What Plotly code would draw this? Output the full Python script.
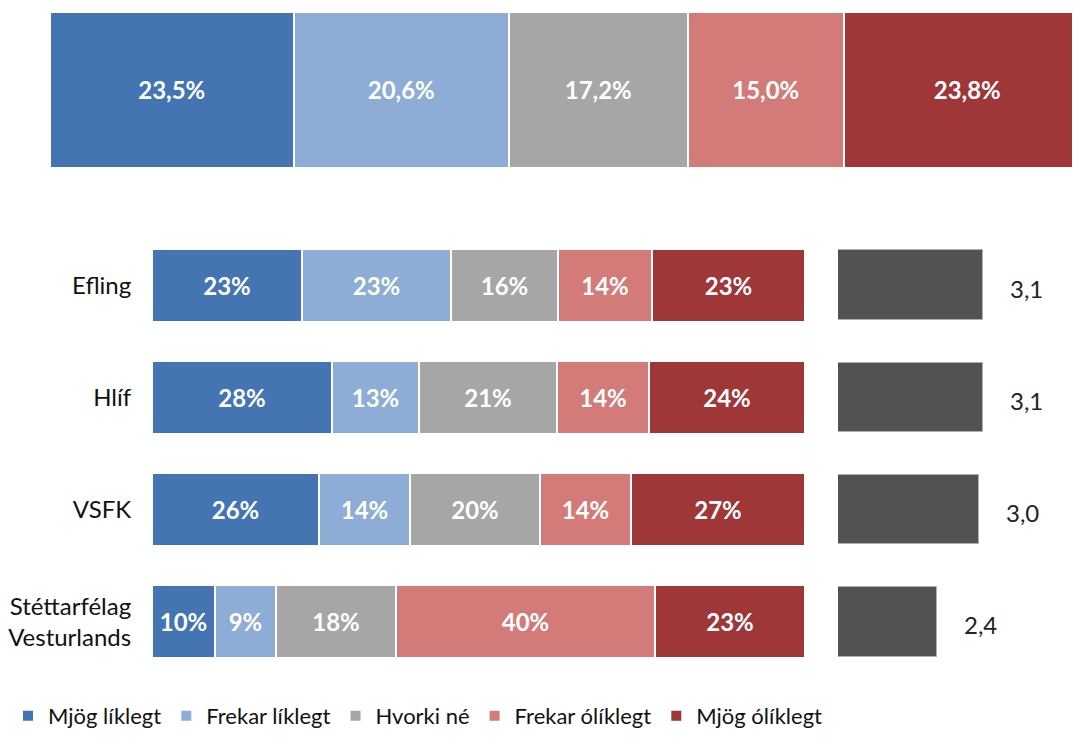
import plotly.graph_objects as go

series = ["Mjög líklegt", "Frekar líklegt", "Hvorki né", "Frekar ólíklegt", "Mjög ólíklegt"]
colors = ["#4474b2", "#8dadd6", "#a6a6a6", "#d37b78", "#9f3638"]

total_values = [23.5, 20.6, 17.2, 15.0, 23.8]

groups = ["Efling", "Hlíf", "VSFK", "Stéttarfélag<br>Vesturlands"]
group_values = {
    "Mjög líklegt":    [22.9, 27.6, 25.6, 9.6],
    "Frekar líklegt":  [22.9, 13.3, 13.9, 9.4],
    "Hvorki né":       [16.4, 21.1, 19.9, 18.3],
    "Frekar ólíklegt": [14.4, 14.1, 14.0, 39.8],
    "Mjög ólíklegt":   [23.4, 23.9, 26.6, 22.9],
}
means = [3.10, 3.10, 3.04, 2.43]

FONT = "Lato"
OFF = 8                      # page body margin
W, H = 1080 - 2 * OFF, 745 - 2 * OFF


def px_x(sx):
    return (sx - OFF) / W


def px_y(sy):
    return 1 - (sy - OFF) / H


fig = go.Figure()

# top total bar
for s, c, v in zip(series, colors, total_values):
    fig.add_trace(go.Bar(
        x=[v], y=["Alls"], orientation="h", name=s,
        marker=dict(color=c, line=dict(color="white", width=2.5)),
        texttemplate="<b>%{x:.1f}%</b>", textposition="inside", insidetextanchor="middle",
        textfont=dict(color="white", size=24, family=FONT), constraintext="none",
        xaxis="x", yaxis="y", showlegend=False, width=1.0,
    ))

# group bars
for s, c in zip(series, colors):
    fig.add_trace(go.Bar(
        x=group_values[s], y=groups, orientation="h", name=s,
        marker=dict(color=c, line=dict(color="white", width=2)),
        texttemplate="<b>%{x:.0f}%</b>", textposition="inside", insidetextanchor="middle",
        textfont=dict(color="white", size=24, family=FONT), constraintext="none",
        xaxis="x2", yaxis="y2", width=0.65, showlegend=True,
    ))

# mean bars (scale starts at 1)
fig.add_trace(go.Bar(
    x=[m - 1 for m in means], y=groups, orientation="h", base=[1] * len(means), name="Meðaltal",
    marker=dict(color="#525250", line=dict(color="#b0b0b0", width=1)),
    xaxis="x3", yaxis="y2", width=0.62, showlegend=False,
))

for g, m in zip(groups, means):
    fig.add_annotation(
        x=m, y=g, xref="x3", yref="y2", text=f"{m:.1f}".replace(".", ","),
        showarrow=False, xanchor="left", xshift=25, yshift=-3,
        font=dict(size=24, family=FONT, color="#222222"),
    )

fig.update_layout(
    width=W, height=H,
    margin=dict(l=0, r=0, t=0, b=0, pad=0, autoexpand=False),
    paper_bgcolor="white", plot_bgcolor="white",
    barmode="stack", separators=",.",
    font=dict(family=FONT, size=20, color="#222222"),
    xaxis=dict(domain=[0, 1], range=[-(50 - OFF) / 10.4, (W - (50 - OFF)) / 10.4], visible=False),
    yaxis=dict(domain=[px_y(168), px_y(12)], range=[-0.5, 0.5], visible=False, anchor="x"),
    xaxis2=dict(domain=[px_x(152), px_x(805)], range=[0, 100], visible=False, anchor="y2"),
    yaxis2=dict(domain=[px_y(678), px_y(229)], range=[3.5, -0.5], anchor="x2",
                showgrid=False, zeroline=False, showline=False,
                ticks="outside", ticklen=15, tickcolor="rgba(0,0,0,0)",
                tickfont=dict(size=24, family=FONT, color="#111111")),
    xaxis3=dict(domain=[px_x(838), 1], range=[1, 1 + (W + OFF - 838) / 69.0], visible=False, anchor="y2"),
    legend=dict(orientation="h", xref="container", yref="container",
                x=px_x(4), xanchor="left", y=px_y(737), yanchor="bottom",
                font=dict(size=22, family=FONT, color="#111111"), traceorder="normal",
                bgcolor="rgba(0,0,0,0)", itemwidth=30),
    bargap=0,
)

fig.write_html("out.html")
